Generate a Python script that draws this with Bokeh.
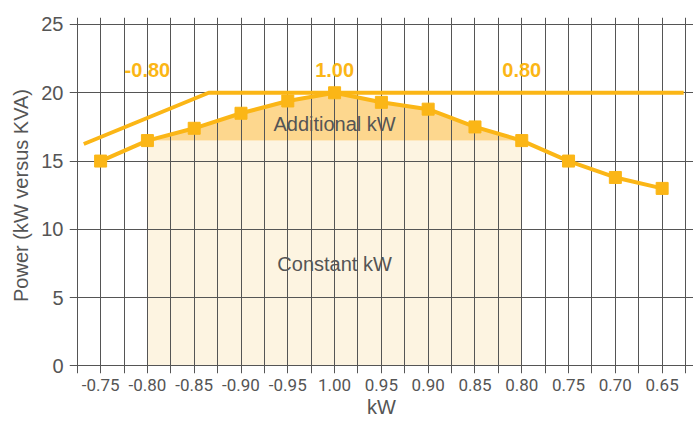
from bokeh.plotting import figure
from bokeh.models import Range1d, FixedTicker
from bokeh.core.properties import value
from bokeh.embed import file_html
from bokeh.resources import INLINE

# ---- data ----
pf_labels = ["-0.75", "-0.80", "-0.85", "-0.90", "-0.95", "1.00", "0.95",
             "0.90", "0.85", "0.80", "0.75", "0.70", "0.65"]
kw_values = [15.0, 16.5, 17.4, 18.5, 19.4, 20.0, 19.3, 18.8, 17.5, 16.5, 15.0, 13.8, 13.0]
kva_x = [-0.36, 2.31, 12.46]
kva_y = [16.25, 20.0, 20.0]
constant_kw = 16.5
band_start, band_end = 1, 9
pf_marks = ["-0.80", "1.00", "0.80"]
pf_mark_idx = [1, 5, 9]
pf_mark_y = 21.7
y_ticks = [0, 5, 10, 15, 20, 25]

ORANGE = "#FBB616"
TEXT = "#555555"
FONT = "Liberation Sans"

idx = list(range(len(pf_labels)))

p = figure(width=693, height=417, output_backend="svg", toolbar_location=None,
           x_range=Range1d(-0.665, 12.67), y_range=Range1d(-0.55, 25.51),
           frame_width=624, frame_height=356,
           min_border_left=69, min_border_right=0, min_border_top=17, min_border_bottom=44)
p.outline_line_color = None
p.background_fill_color = "white"
p.border_fill_color = "white"

# fills
bx = idx[band_start:band_end + 1]
by = kw_values[band_start:band_end + 1]
p.varea(x=[bx[0], bx[-1]], y1=[0, 0], y2=[constant_kw, constant_kw],
        fill_color="#FDF4E1", level="image")
p.varea(x=bx, y1=[constant_kw] * len(bx), y2=by, fill_color="#FDD78E", level="image")

# grid
p.xgrid.ticker = FixedTicker(ticks=[-0.5 + 0.5 * k for k in range(27)])
p.ygrid.ticker = FixedTicker(ticks=y_ticks)
for g in (p.xgrid, p.ygrid):
    g.grid_line_color = "#555555"
    g.grid_line_width = 1
    g.grid_line_alpha = 1.0

# lines
p.line(kva_x, kva_y, line_color=ORANGE, line_width=4)
p.line(idx, kw_values, line_color=ORANGE, line_width=4)
p.scatter(idx, kw_values, marker="square", size=12, fill_color=ORANGE, line_color=ORANGE)

# texts
p.text(x=pf_mark_idx, y=[pf_mark_y] * 3, text=pf_marks, text_color=ORANGE,
       text_font=value(FONT), text_font_style="bold", text_font_size="20px",
       text_align="center", text_baseline="middle")
p.text(x=[5, 5], y=[17.7, 7.5], text=["Additional kW", "Constant kW"], text_color=TEXT,
       text_font=value(FONT), text_font_size="20px",
       text_align="center", text_baseline="middle")

# axes
xa = p.xaxis[0]
xa.ticker = FixedTicker(ticks=idx)
xa.major_label_overrides = {i: l for i, l in zip(idx, pf_labels)}
xa.axis_label = "kW"
ya = p.yaxis[0]
ya.ticker = FixedTicker(ticks=y_ticks)
ya.axis_label = "Power (kW versus KVA)"
for ax in (xa, ya):
    ax.axis_line_color = None
    ax.major_tick_line_color = None
    ax.minor_tick_line_color = None
    ax.major_tick_out = 0
    ax.major_tick_in = 0
    ax.major_label_text_color = TEXT
    ax.major_label_text_font = FONT
    ax.axis_label_text_color = TEXT
    ax.axis_label_text_font = FONT
    ax.axis_label_text_font_style = "normal"
    ax.axis_label_text_font_size = "20px"
xa.major_label_text_font = "Roboto"
xa.major_label_text_font_size = "17px"
xa.major_label_standoff = 5
xa.axis_label_standoff = 2
ya.major_label_text_font_size = "20px"
ya.major_label_standoff = 6
ya.axis_label_standoff = 6

open("out.html", "w").write(file_html(p, INLINE))
